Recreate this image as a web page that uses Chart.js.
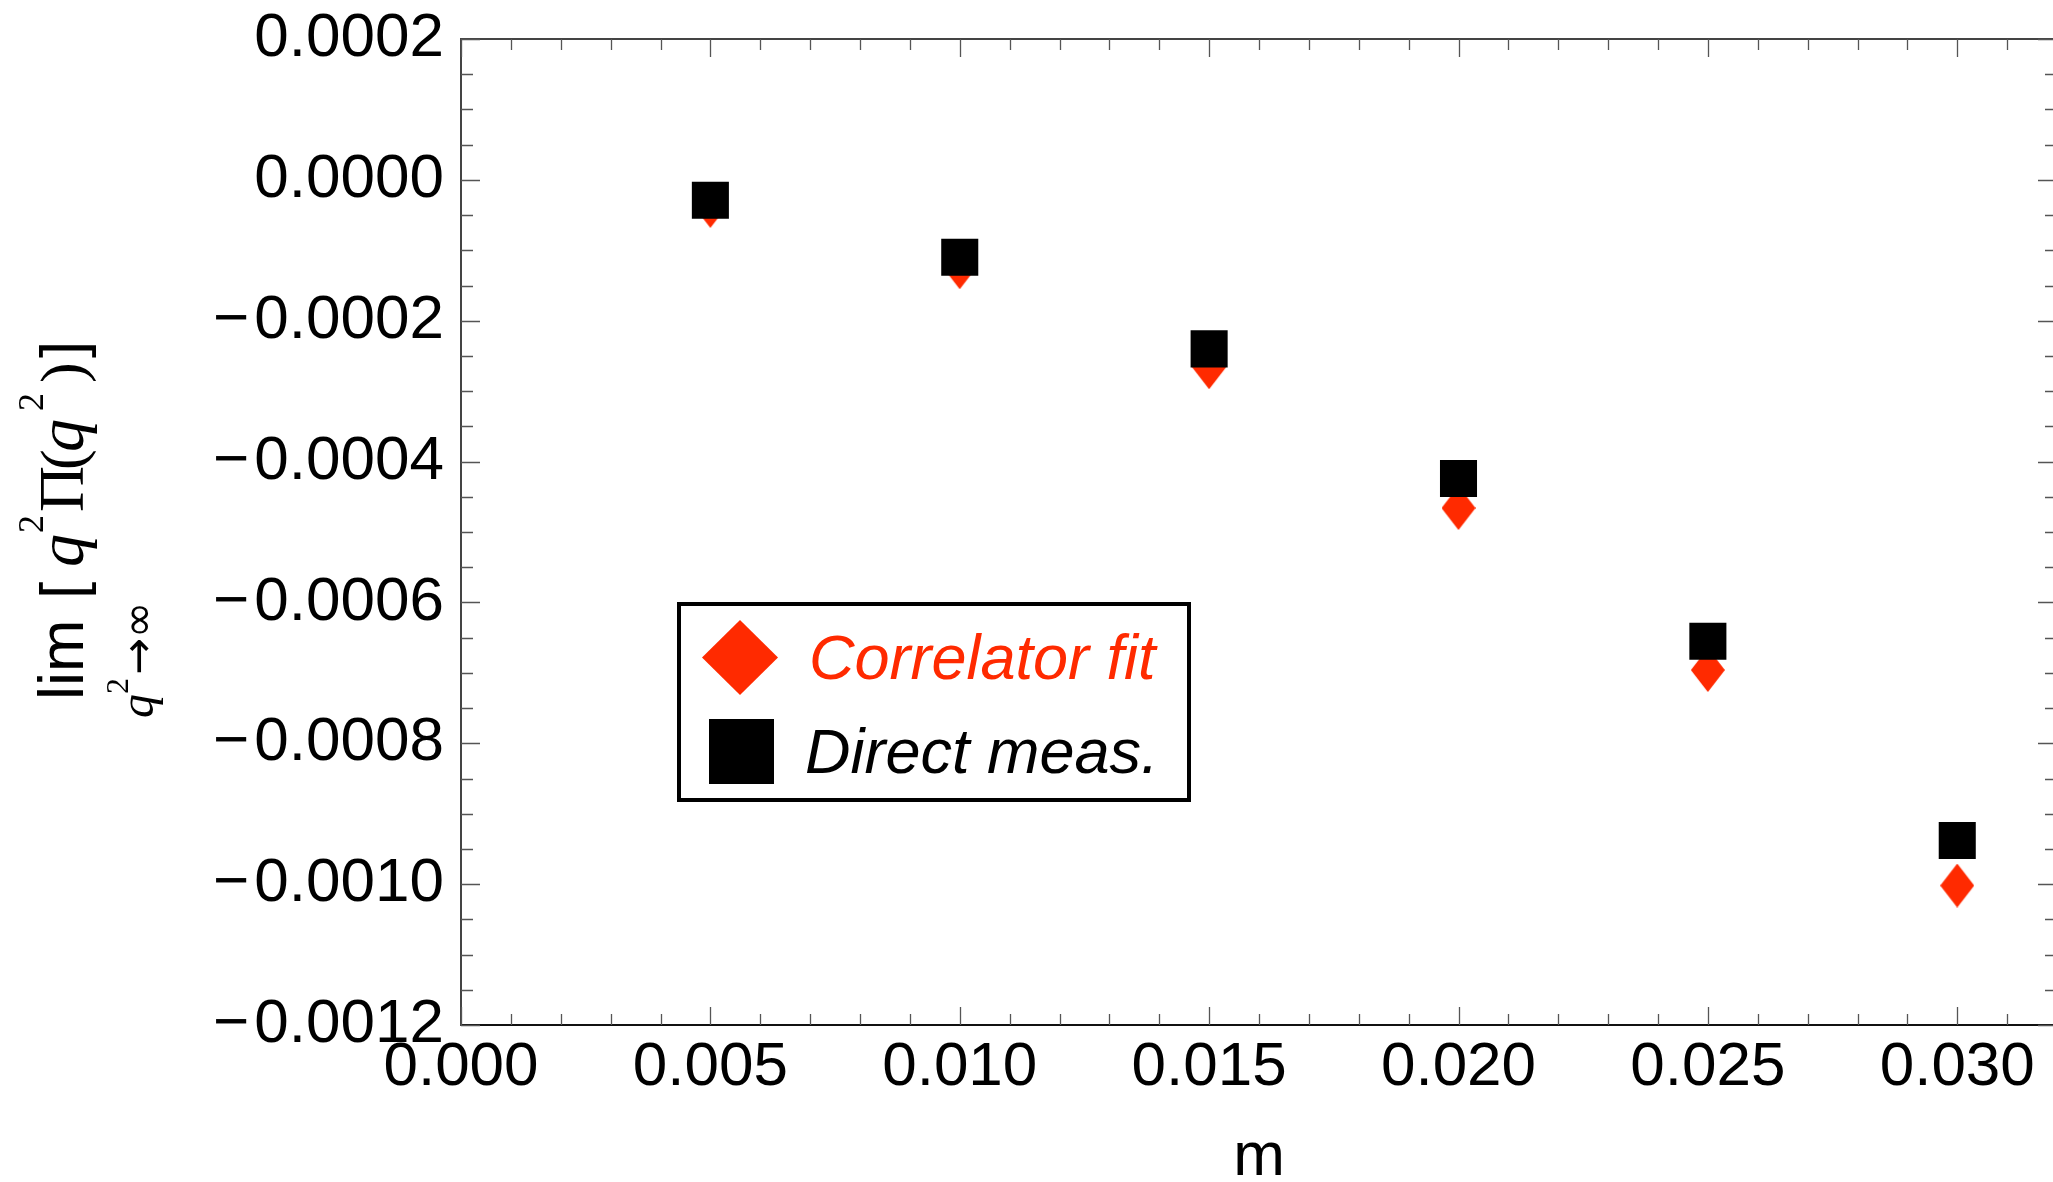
<!DOCTYPE html>
<html><head><meta charset="utf-8">
<script src="https://cdn.jsdelivr.net/npm/chart.js@4/dist/chart.umd.min.js"></script>
<style>
html,body{margin:0;padding:0;background:#fff;overflow:hidden;}
#wrap{position:relative;width:2070px;height:1200px;}
</style>
</head><body>
<div id="wrap"><canvas id="c" width="2070" height="1200"></canvas></div>
<script>
// ---- data ----
const masses = [0.005, 0.010, 0.015, 0.020, 0.025, 0.030];
const correlatorFit = [-0.000037, -0.000124, -0.000266, -0.000466, -0.000696, -0.001002];
const directMeas = [-0.000029, -0.000110, -0.000240, -0.000424, -0.000655, -0.000938];
const seriesLabels = ['Correlator fit', 'Direct meas.'];
const xTicks = [0, 0.005, 0.010, 0.015, 0.020, 0.025, 0.030];
const yTicks = [-0.0012, -0.0010, -0.0008, -0.0006, -0.0004, -0.0002, 0, 0.0002];
const xRange = [0, 0.032];
const yRange = [-0.0012, 0.0002];
const xMinorStep = 0.001;
const yMinorStep = 0.00005;
const xTitle = 'm';

// ---- styles ----
const RED = '#ff2a00';
const SANS = '"Liberation Sans", Arial, Helvetica, sans-serif';
const SERIF = '"Liberation Serif", "Times New Roman", serif';

function diamondCanvas(w, h, color) {
  const c = document.createElement('canvas');
  c.width = w; c.height = h;
  const g = c.getContext('2d');
  g.fillStyle = color;
  g.beginPath();
  g.moveTo(w / 2, 0); g.lineTo(w, h / 2); g.lineTo(w / 2, h); g.lineTo(0, h / 2);
  g.closePath(); g.fill();
  return c;
}

function fmtY(v) {
  const r = Math.round(v * 1e5) / 1e5;
  if (Math.abs(r) < 1e-12) return '0.0000';
  return r < 0 ? '\u2212\u200A' + Math.abs(r).toFixed(4) : r.toFixed(4);
}

const decorPlugin = {
  id: 'decor',
  afterDatasetsDraw(chart) {
    const g = chart.ctx;
    const a = chart.chartArea;
    const xs = chart.scales.x, ys = chart.scales.y;
    g.save();
    g.strokeStyle = '#444';
    g.lineWidth = 2;
    g.strokeRect(a.left, a.top, a.right - a.left, a.bottom - a.top);
    g.strokeStyle = '#111';
    g.beginPath(); g.moveTo(a.left, a.bottom); g.lineTo(a.right, a.bottom); g.stroke();
    g.strokeStyle = '#555';
    g.lineWidth = 1.3;
    const nx = Math.round((xRange[1] - xRange[0]) / xMinorStep);
    for (let k = 0; k <= nx; k++) {
      const v = xRange[0] + k * xMinorStep;
      const px = Math.round(xs.getPixelForValue(v)) + 0.5;
      const len = (k % 5 === 0) ? 18 : 11;
      g.beginPath();
      g.moveTo(px, a.bottom); g.lineTo(px, a.bottom - len);
      g.moveTo(px, a.top); g.lineTo(px, a.top + len);
      g.stroke();
    }
    const k0 = Math.round(yRange[0] / yMinorStep), k1 = Math.round(yRange[1] / yMinorStep);
    for (let k = k0; k <= k1; k++) {
      const v = k * yMinorStep;
      const py = Math.round(ys.getPixelForValue(v)) + 0.5;
      const len = (k % 4 === 0) ? 19 : 12;
      g.beginPath();
      g.moveTo(a.left, py); g.lineTo(a.left + len, py);
      g.moveTo(a.right, py); g.lineTo(a.right - len, py);
      g.stroke();
    }
    g.restore();
  },
  afterDraw(chart) {
    const g = chart.ctx;
    const ds = chart.data.datasets;
    // ---- legend ----
    g.save();
    g.fillStyle = '#fff';
    g.fillRect(677, 602, 514, 200);
    g.strokeStyle = '#000';
    g.lineWidth = 4;
    g.strokeRect(679, 604, 510, 196);
    g.fillStyle = ds[0].backgroundColor;
    g.beginPath();
    g.moveTo(740, 620); g.lineTo(778, 657.5); g.lineTo(740, 695); g.lineTo(702, 657.5);
    g.closePath(); g.fill();
    g.fillStyle = ds[1].backgroundColor;
    g.fillRect(709, 719, 65, 65);
    g.font = 'italic 63px ' + SANS;
    g.textAlign = 'left';
    g.textBaseline = 'alphabetic';
    g.fillStyle = RED;
    g.fillText(ds[0].label, 809, 679);
    g.fillStyle = '#000';
    g.fillText(ds[1].label, 805, 773);
    g.restore();

    // ---- y axis title ----
    g.save();
    g.translate(83, 700);
    g.rotate(-Math.PI / 2);
    g.fillStyle = '#000';
    g.textAlign = 'left';
    g.textBaseline = 'alphabetic';
    g.font = '63px ' + SANS;
    g.fillText('lim', 0, 0);
    const limW = g.measureText('lim').width;
    const fq = 'italic 48px ' + SERIF, f2 = '32px ' + SERIF, fa = '44px "DejaVu Sans", sans-serif';
    g.font = fq; const qw = g.measureText('q').width;
    g.font = f2; const sw = g.measureText('2').width;
    g.font = fa; const aw = g.measureText('\u2192\u221E').width;
    const tot = qw + sw + 3 + aw;
    const sx = limW / 2 - tot / 2;
    const sb = 70;
    g.font = fq; g.fillText('q', sx, sb);
    g.font = f2; g.fillText('2', sx + qw, sb - 25);
    g.font = fa; g.fillText('\u2192\u221E', sx + qw + sw + 3, sb);
    g.font = '62px ' + SANS; g.fillText('[', 101, 0);
    g.font = 'italic 66px ' + SERIF; g.fillText('q', 133, 0);
    g.font = '36px ' + SERIF; g.fillText('2', 167, -40);
    g.font = '64px ' + SERIF; g.fillText('\u03A0', 188, 0);
    g.font = '62px ' + SERIF; g.fillText('(', 230, 0);
    g.font = 'italic 66px ' + SERIF; g.fillText('q', 248, 0);
    g.font = '36px ' + SERIF; g.fillText('2', 289, -40);
    g.font = '62px ' + SERIF; g.fillText(')', 317, 0);
    g.font = '62px ' + SANS; g.fillText(']', 342, 0);
    g.restore();
  }
};

const ctx = document.getElementById('c').getContext('2d');
new Chart(ctx, {
  type: 'scatter',
  data: {
    datasets: [
      {
        label: seriesLabels[0],
        data: masses.map((m, i) => ({ x: m, y: correlatorFit[i] })),
        pointStyle: diamondCanvas(34, 44, RED),
        pointRadius: 22,
        backgroundColor: RED,
        borderColor: RED,
        borderWidth: 0,
        order: 2
      },
      {
        label: seriesLabels[1],
        data: masses.map((m, i) => ({ x: m, y: directMeas[i] })),
        pointStyle: 'rect',
        pointRadius: 26.2,
        backgroundColor: '#000',
        borderColor: '#000',
        borderWidth: 0,
        order: 1
      }
    ]
  },
  options: {
    responsive: false,
    devicePixelRatio: 1,
    animation: false,
    layout: { autoPadding: false, padding: { left: 0, top: 39, right: 13, bottom: 11 } },
    plugins: { legend: { display: false }, tooltip: { enabled: false } },
    scales: {
      x: {
        type: 'linear',
        min: xRange[0], max: xRange[1],
        afterBuildTicks: s => { s.ticks = xTicks.map(v => ({ value: v })); },
        afterFit: s => { s.height = 164; s.paddingLeft = 0; s.paddingRight = 0; },
        grid: { display: false, drawTicks: false },
        border: { display: false },
        ticks: {
          color: '#000', font: { family: SANS, size: 62 },
          padding: 6, maxRotation: 0, autoSkip: false,
          callback: v => (Math.round(v * 1e4) / 1e4).toFixed(3)
        },
        title: {
          display: true, text: xTitle, color: '#000',
          font: { family: SANS, size: 62, lineHeight: 1 },
          padding: { top: 0, bottom: 0 }
        }
      },
      y: {
        type: 'linear',
        min: yRange[0], max: yRange[1],
        afterBuildTicks: s => { s.ticks = yTicks.map(v => ({ value: v })); },
        afterFit: s => { s.width = 461; s.paddingTop = 0; s.paddingBottom = 0; },
        grid: { display: false, drawTicks: false },
        border: { display: false },
        ticks: {
          color: '#000', font: { family: SANS, size: 62 },
          padding: 17, autoSkip: false,
          callback: v => fmtY(v)
        }
      }
    }
  },
  plugins: [decorPlugin]
});
</script>
</body></html>
